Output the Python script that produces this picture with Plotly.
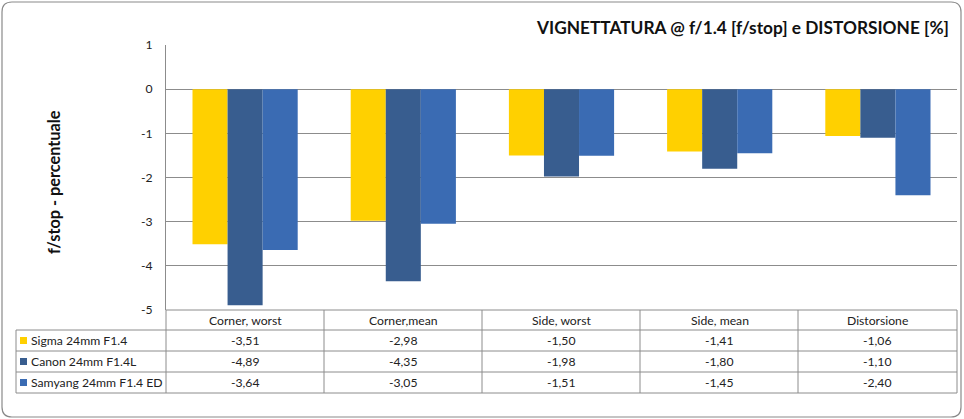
import plotly.graph_objects as go

categories = ["Corner, worst", "Corner,mean", "Side, worst", "Side, mean", "Distorsione"]
series_names = ["Sigma 24mm F1.4", "Canon 24mm F1.4L", "Samyang 24mm F1.4 ED"]
sigma = [-3.51, -2.98, -1.50, -1.41, -1.06]
canon = [-4.89, -4.35, -1.98, -1.80, -1.10]
samyang = [-3.64, -3.05, -1.51, -1.45, -2.40]
ytick_vals = [1, 0, -1, -2, -3, -4, -5]
ytick_text = ["1", "0", "-1", "-2", "-3", "-4", "-5"]

series = [sigma, canon, samyang]
colors = ["#FFD000", "#385D8F", "#3A6BB3"]

W, H = 964, 419
L, R, T, B = 166, 957, 45, 310
FONT = "Lato"
GRAY = "#8C8C8C"
FS = 12.2


def px(x):
    return (x - L) / (R - L)


def py(y):
    return (B - y) / (B - T)


fig = go.Figure()
for name, vals, col in zip(series_names, series, colors):
    fig.add_trace(go.Bar(x=categories, y=vals, name=name, marker=dict(color=col, line=dict(width=0)),
                         showlegend=False, hoverinfo="skip"))

shapes = []
annotations = []

# outer rounded border
r = 10
x0, x1, y0, y1 = 2, 961, 2, 417
rx, ry = r / (R - L), r / (B - T)
path = (f"M {px(x0)+rx},{py(y0)} L {px(x1)-rx},{py(y0)} Q {px(x1)},{py(y0)} {px(x1)},{py(y0)-ry} "
        f"L {px(x1)},{py(y1)+ry} Q {px(x1)},{py(y1)} {px(x1)-rx},{py(y1)} "
        f"L {px(x0)+rx},{py(y1)} Q {px(x0)},{py(y1)} {px(x0)},{py(y1)+ry} "
        f"L {px(x0)},{py(y0)-ry} Q {px(x0)},{py(y0)} {px(x0)+rx},{py(y0)} Z")
shapes.append(dict(type="path", xref="paper", yref="paper", path=path,
                   line=dict(color="#8A8A8A", width=1.2), layer="below"))

# table grid
row_lines = [310, 330, 351, 372, 393]
col_lines = [166, 324, 482, 640, 798, 957]
for i, yl in enumerate(row_lines):
    xs = 166 if i == 0 else 16
    shapes.append(dict(type="line", xref="paper", yref="paper", x0=px(xs), x1=px(957),
                       y0=py(yl), y1=py(yl), line=dict(color=GRAY, width=1)))
for xl in col_lines:
    shapes.append(dict(type="line", xref="paper", yref="paper", x0=px(xl), x1=px(xl),
                       y0=py(310), y1=py(393), line=dict(color=GRAY, width=1)))
shapes.append(dict(type="line", xref="paper", yref="paper", x0=px(16), x1=px(16),
                   y0=py(330), y1=py(393), line=dict(color=GRAY, width=1)))

# header labels
for c in categories:
    annotations.append(dict(x=c, xref="x", y=py(320.5), yref="paper", text=c, showarrow=False,
                            font=dict(family=FONT, size=FS, color="#222"), xanchor="center", yanchor="middle"))

row_centers = [340.5, 361.5, 382.5]
for name, vals, col, yc in zip(series_names, series, colors, row_centers):
    shapes.append(dict(type="rect", xref="paper", yref="paper", x0=px(20), x1=px(27),
                       y0=py(yc - 3.5), y1=py(yc + 3.5), fillcolor=col, line=dict(width=0)))
    annotations.append(dict(x=px(29), xref="paper", y=py(yc), yref="paper", text=name, showarrow=False,
                            font=dict(family=FONT, size=FS, color="#222"), xanchor="left", yanchor="middle"))
    for c, v in zip(categories, vals):
        annotations.append(dict(x=c, xref="x", y=py(yc), yref="paper", text=f"{v:.2f}".replace(".", ","),
                                showarrow=False, font=dict(family=FONT, size=FS, color="#222"),
                                xanchor="center", yanchor="middle"))

# y axis title
annotations.append(dict(x=px(53), xref="paper", y=py(182), yref="paper", text="<b>f/stop - percentuale</b>",
                        textangle=-90, showarrow=False, font=dict(family=FONT, size=16.3, color="#111"),
                        xanchor="center", yanchor="middle"))
# title
annotations.append(dict(x=px(951), xref="paper", y=py(27), yref="paper",
                        text="<b>VIGNETTATURA @ f/1.4 [f/stop] e DISTORSIONE [%]</b>",
                        showarrow=False, font=dict(family=FONT, size=17.3, color="#111"),
                        xanchor="right", yanchor="middle"))

fig.update_layout(
    width=W, height=H,
    margin=dict(l=L, r=W - R, t=T, b=H - B),
    paper_bgcolor="white", plot_bgcolor="white",
    barmode="group", bargap=0.335, bargroupgap=0,
    shapes=shapes, annotations=annotations,
    hovermode=False,
    xaxis=dict(showticklabels=False, showgrid=False, zeroline=False, showline=False, ticks=""),
    yaxis=dict(range=[-5, 1], tickvals=ytick_vals, ticktext=ytick_text, showgrid=True, gridcolor=GRAY,
               gridwidth=1, zeroline=False, showline=True, linecolor=GRAY, ticks="",
               tickfont=dict(family=FONT, size=FS, color="#222"), ticklabelstandoff=10),
)

fig.write_html("out.html", config={"displayModeBar": False},
               post_script="document.body.style.margin='0';document.body.style.overflow='hidden';")
